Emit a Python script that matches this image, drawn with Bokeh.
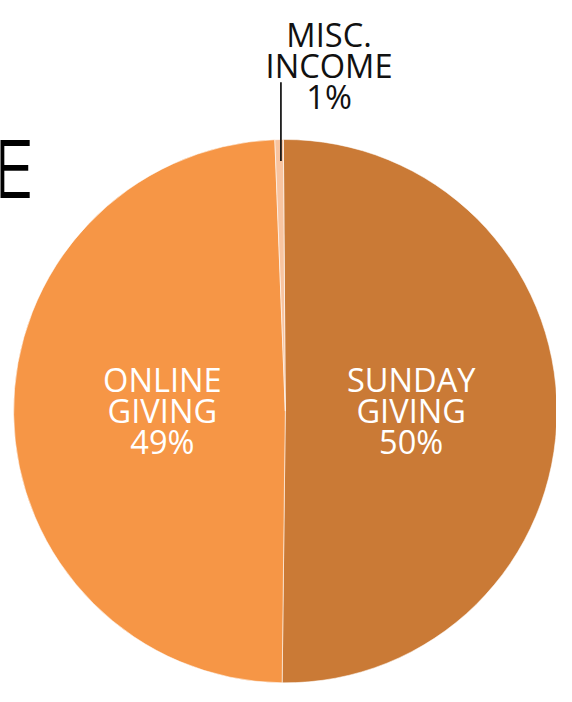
import numpy as np
from bokeh.plotting import figure
from bokeh.models import Range1d, Label
from bokeh.embed import file_html
from bokeh.resources import INLINE

# ---- data ----
categories = ["SUNDAY GIVING", "ONLINE GIVING", "MISC. INCOME"]
shares = [50.3, 49.2, 0.5]          # drawn proportions
label_pcts = ["50%", "49%", "1%"]    # printed labels
colors = ["#CA7A36", "#F69646", "#F8C4A0"]

# ---- geometry in reference pixel frame (y downward, flipped below) ----
W, H = 572, 702
FW, FH = 556, 686
s = FW / W                    # uniform scale so the whole fits
cx, cy, r = 293.0, 422.5, 279.5
start_deg = 90.41

def Y(y):
    return H - y

p = figure(width=FW, height=FH, output_backend="svg",
           toolbar_location=None, x_range=Range1d(0, W),
           y_range=Range1d(H - FH / s, H), min_border=0)
p.axis.visible = False
p.grid.visible = False
p.outline_line_color = None
p.background_fill_color = "white"
p.border_fill_color = "white"

vals = np.array(shares, dtype=float)
frac = vals / vals.sum()
cum = np.concatenate([[0.0], np.cumsum(frac)])
starts = np.radians(start_deg - cum[:-1] * 360.0)
ends = np.radians(start_deg - cum[1:] * 360.0)

p.wedge(x=[cx] * 3, y=[Y(cy)] * 3, radius=r, start_angle=list(starts),
        end_angle=list(ends), direction="clock", fill_color=colors,
        line_color="white", line_alpha=0.55, line_width=1)

font = "Open Sans"

def px(v):
    return f"{v * s:.1f}px"

def add_label(x, y, t, color, size=33.5, align="center"):
    p.add_layout(Label(x=x, y=Y(y), text=t, text_color=color,
                       text_font=font, text_font_size=px(size),
                       text_align=align, text_baseline="alphabetic"))

# inside labels
inside = [(422.5, categories[0].split(" "), label_pcts[0]),
          (166.5, categories[1].split(" "), label_pcts[1])]
for x, words, pct in inside:
    for i, t in enumerate(words + [pct]):
        add_label(x, 390 + 32 * i, t, "white")

# misc label outside
for i, t in enumerate(categories[2].split(" ") + [label_pcts[2]]):
    add_label(338, 35 + 32 * i, t, "#111111")

# leader line
p.line(x=[288.5, 288.5], y=[Y(84), Y(165)], line_color="black", line_width=1.6)

# partial title letter
add_label(35, 171, "E", "black", size=83, align="right")

open("out.html", "w").write(file_html(p, INLINE))
